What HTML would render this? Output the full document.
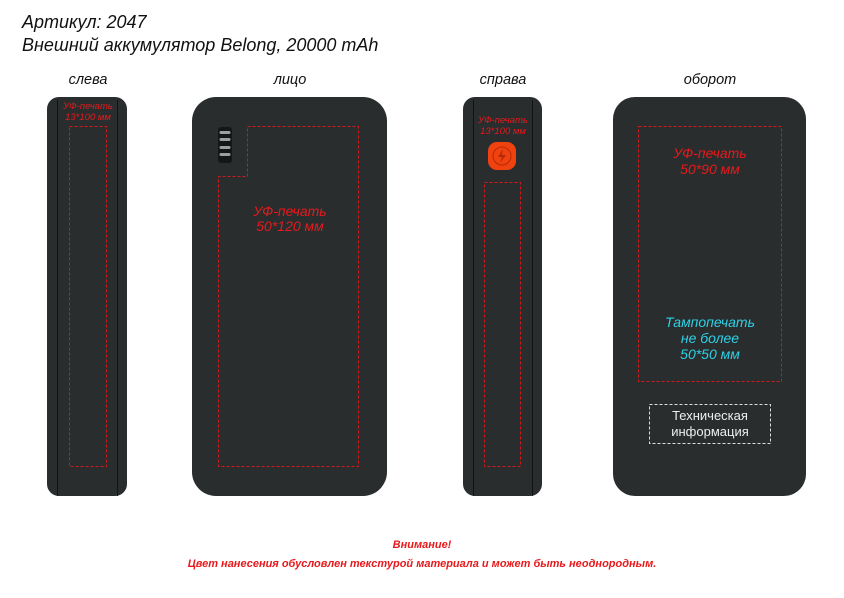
<!DOCTYPE html>
<html><head><meta charset="utf-8"><style>
html,body{margin:0;padding:0;background:#fff;}
svg{display:block;}
text{font-family:"Liberation Sans",Arial,sans-serif;font-style:italic;}
</style></head><body>
<svg width="844" height="598" viewBox="0 0 844 598" xmlns="http://www.w3.org/2000/svg">
<text x="22" y="28" font-size="18" fill="#111">Артикул: 2047</text>
<text x="22" y="51" font-size="18" fill="#111">Внешний аккумулятор Belong, 20000 mAh</text>
<g font-size="14.5" fill="#111" text-anchor="middle">
<text x="88" y="84">слева</text>
<text x="290" y="84">лицо</text>
<text x="503" y="84">справа</text>
<text x="710" y="84">оборот</text>
</g>
<!-- left -->
<rect x="47" y="97" width="80" height="399" rx="12" fill="#292d2d"/>
<line x1="57.5" y1="100" x2="57.5" y2="496" stroke="#121414" stroke-width="1"/>
<line x1="117.5" y1="100" x2="117.5" y2="496" stroke="#121414" stroke-width="1"/>
<rect x="69.5" y="126.5" width="37" height="340" fill="none" stroke="#d0191c" stroke-width="1" stroke-dasharray="3,2"/>
<g font-size="9.5" fill="#e8191c" text-anchor="middle"><text x="88" y="109">УФ-печать</text><text x="88" y="120">13*100 мм</text></g>
<!-- front -->
<rect x="192" y="97" width="195" height="399" rx="24" fill="#292d2d"/>
<path d="M247.5 126.5 H358.5 V466.5 H218.5 V176.5 H247.5 Z" fill="none" stroke="#d0191c" stroke-width="1" stroke-dasharray="3,2"/>
<rect x="218" y="127" width="14" height="36" rx="3" fill="#151717"/>
<g fill="#9a9f9f"><rect x="219.5" y="131" width="11" height="3" rx="1.5"/><rect x="219.5" y="138" width="11" height="3" rx="1.5"/><rect x="219.5" y="146" width="11" height="3" rx="1.5"/><rect x="219.5" y="153" width="11" height="3" rx="1.5"/></g>
<g font-size="14" fill="#e8191c" text-anchor="middle"><text x="290" y="216">УФ-печать</text><text x="290" y="231">50*120 мм</text></g>
<!-- right -->
<rect x="463" y="97" width="79" height="399" rx="12" fill="#292d2d"/>
<line x1="473.5" y1="100" x2="473.5" y2="496" stroke="#121414" stroke-width="1"/>
<line x1="532.5" y1="100" x2="532.5" y2="496" stroke="#121414" stroke-width="1"/>
<rect x="484.5" y="182.5" width="36" height="284" fill="none" stroke="#d0191c" stroke-width="1" stroke-dasharray="3,2"/>
<g font-size="9.5" fill="#e8191c" text-anchor="middle"><text x="503" y="123">УФ-печать</text><text x="503" y="134">13*100 мм</text></g>
<rect x="488" y="142" width="28" height="28" rx="9" fill="#f0420f"/>
<circle cx="502" cy="156" r="9" fill="none" stroke="#b52a08" stroke-width="1"/>
<path d="M503 149 L498 157 H502 L500 163 L506 155 H502 Z" fill="#b52a08"/>
<!-- back -->
<rect x="613" y="97" width="193" height="399" rx="22" fill="#292d2d"/>
<rect x="638.5" y="126.5" width="143" height="255" fill="none" stroke="#d0191c" stroke-width="1" stroke-dasharray="3,2"/>
<g font-size="14" fill="#e8191c" text-anchor="middle"><text x="710" y="158">УФ-печать</text><text x="710" y="174">50*90 мм</text></g>
<g font-size="14" fill="#2fd0e6" text-anchor="middle"><text x="710" y="327">Тампопечать</text><text x="710" y="343">не более</text><text x="710" y="359">50*50 мм</text></g>
<rect x="649.5" y="404.5" width="121" height="39" fill="none" stroke="#ddd" stroke-width="1" stroke-dasharray="3,2"/>
<g font-size="13" fill="#eee" text-anchor="middle"><text x="710" y="420" style="font-style:normal">Техническая</text><text x="710" y="436" style="font-style:normal">информация</text></g>
<!-- footer -->
<g font-size="11" fill="#e8191c" text-anchor="middle" font-weight="bold"><text x="422" y="548">Внимание!</text><text x="422" y="567">Цвет нанесения обусловлен текстурой материала и может быть неоднородным.</text></g>
</svg>
</body></html>
